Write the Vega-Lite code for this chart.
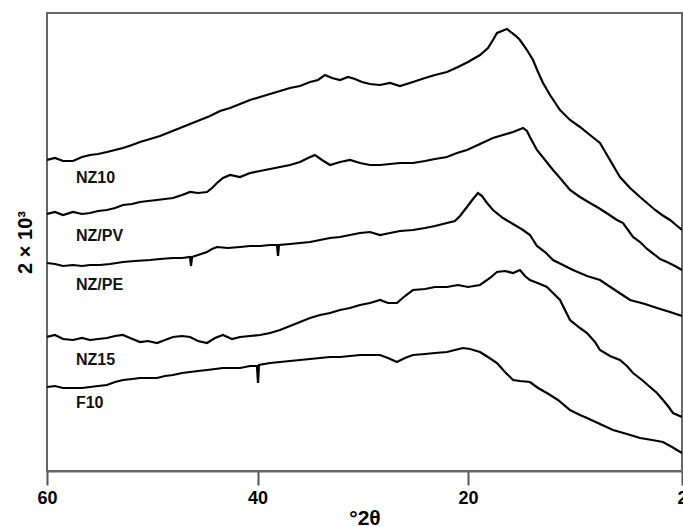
{
  "$schema": "https://vega.github.io/schema/vega-lite/v6.json",
  "width": 635,
  "height": 458,
  "autosize": {"type": "none"},
  "padding": {"left": 47, "top": 13, "right": 1, "bottom": 56},
  "background": "white",
  "config": {
    "view": {"stroke": "#666", "strokeWidth": 2},
    "font": "Liberation Sans"
  },
  "datasets": {
    "labels": [
      {"sample": "NZ10", "twotheta": 57.25, "intensity": 288},
      {"sample": "NZ/PV", "twotheta": 57.25, "intensity": 230},
      {"sample": "NZ/PE", "twotheta": 57.25, "intensity": 181},
      {"sample": "NZ15", "twotheta": 57.25, "intensity": 106},
      {"sample": "F10", "twotheta": 57.25, "intensity": 63}
    ]
  },
  "data": {"values": [
    {"sample":"NZ10","twotheta":60.00,"intensity":311},
    {"sample":"NZ10","twotheta":59.24,"intensity":313},
    {"sample":"NZ10","twotheta":58.48,"intensity":310},
    {"sample":"NZ10","twotheta":57.53,"intensity":310},
    {"sample":"NZ10","twotheta":56.67,"intensity":314},
    {"sample":"NZ10","twotheta":55.91,"intensity":316},
    {"sample":"NZ10","twotheta":55.15,"intensity":317},
    {"sample":"NZ10","twotheta":54.30,"intensity":319},
    {"sample":"NZ10","twotheta":53.54,"intensity":321},
    {"sample":"NZ10","twotheta":52.78,"intensity":323},
    {"sample":"NZ10","twotheta":51.92,"intensity":326},
    {"sample":"NZ10","twotheta":51.16,"intensity":329},
    {"sample":"NZ10","twotheta":50.21,"intensity":332},
    {"sample":"NZ10","twotheta":49.26,"intensity":335},
    {"sample":"NZ10","twotheta":48.31,"intensity":339},
    {"sample":"NZ10","twotheta":47.36,"intensity":343},
    {"sample":"NZ10","twotheta":46.41,"intensity":347},
    {"sample":"NZ10","twotheta":45.46,"intensity":351},
    {"sample":"NZ10","twotheta":44.51,"intensity":355},
    {"sample":"NZ10","twotheta":43.56,"intensity":360},
    {"sample":"NZ10","twotheta":42.61,"intensity":363},
    {"sample":"NZ10","twotheta":41.66,"intensity":367},
    {"sample":"NZ10","twotheta":40.71,"intensity":371},
    {"sample":"NZ10","twotheta":39.76,"intensity":374},
    {"sample":"NZ10","twotheta":38.81,"intensity":377},
    {"sample":"NZ10","twotheta":37.86,"intensity":380},
    {"sample":"NZ10","twotheta":36.91,"intensity":383},
    {"sample":"NZ10","twotheta":35.96,"intensity":385},
    {"sample":"NZ10","twotheta":35.01,"intensity":389},
    {"sample":"NZ10","twotheta":34.25,"intensity":391},
    {"sample":"NZ10","twotheta":33.59,"intensity":396},
    {"sample":"NZ10","twotheta":32.92,"intensity":393},
    {"sample":"NZ10","twotheta":32.16,"intensity":391},
    {"sample":"NZ10","twotheta":31.40,"intensity":394},
    {"sample":"NZ10","twotheta":30.74,"intensity":392},
    {"sample":"NZ10","twotheta":30.07,"intensity":389},
    {"sample":"NZ10","twotheta":29.31,"intensity":387},
    {"sample":"NZ10","twotheta":28.36,"intensity":386},
    {"sample":"NZ10","twotheta":27.41,"intensity":388},
    {"sample":"NZ10","twotheta":26.46,"intensity":385},
    {"sample":"NZ10","twotheta":25.23,"intensity":389},
    {"sample":"NZ10","twotheta":24.09,"intensity":393},
    {"sample":"NZ10","twotheta":23.14,"intensity":396},
    {"sample":"NZ10","twotheta":22.00,"intensity":399},
    {"sample":"NZ10","twotheta":20.95,"intensity":404},
    {"sample":"NZ10","twotheta":20.00,"intensity":409},
    {"sample":"NZ10","twotheta":18.99,"intensity":416},
    {"sample":"NZ10","twotheta":18.32,"intensity":423},
    {"sample":"NZ10","twotheta":17.90,"intensity":431},
    {"sample":"NZ10","twotheta":17.56,"intensity":438},
    {"sample":"NZ10","twotheta":17.14,"intensity":440},
    {"sample":"NZ10","twotheta":16.72,"intensity":442},
    {"sample":"NZ10","twotheta":16.30,"intensity":438},
    {"sample":"NZ10","twotheta":15.96,"intensity":435},
    {"sample":"NZ10","twotheta":15.63,"intensity":431},
    {"sample":"NZ10","twotheta":15.04,"intensity":421},
    {"sample":"NZ10","twotheta":14.53,"intensity":411},
    {"sample":"NZ10","twotheta":14.11,"intensity":399},
    {"sample":"NZ10","twotheta":13.69,"intensity":388},
    {"sample":"NZ10","twotheta":13.10,"intensity":376},
    {"sample":"NZ10","twotheta":12.26,"intensity":361},
    {"sample":"NZ10","twotheta":11.42,"intensity":351},
    {"sample":"NZ10","twotheta":10.58,"intensity":344},
    {"sample":"NZ10","twotheta":9.74,"intensity":336},
    {"sample":"NZ10","twotheta":8.90,"intensity":328},
    {"sample":"NZ10","twotheta":8.06,"intensity":311},
    {"sample":"NZ10","twotheta":7.22,"intensity":294},
    {"sample":"NZ10","twotheta":6.37,"intensity":283},
    {"sample":"NZ10","twotheta":5.53,"intensity":274},
    {"sample":"NZ10","twotheta":4.94,"intensity":268},
    {"sample":"NZ10","twotheta":4.26,"intensity":261},
    {"sample":"NZ10","twotheta":3.68,"intensity":256},
    {"sample":"NZ10","twotheta":3.01,"intensity":251},
    {"sample":"NZ10","twotheta":2.50,"intensity":246},
    {"sample":"NZ10","twotheta":2.00,"intensity":241},

    {"sample":"NZ/PV","twotheta":60.00,"intensity":257},
    {"sample":"NZ/PV","twotheta":59.24,"intensity":259},
    {"sample":"NZ/PV","twotheta":58.48,"intensity":256},
    {"sample":"NZ/PV","twotheta":57.53,"intensity":259},
    {"sample":"NZ/PV","twotheta":56.67,"intensity":257},
    {"sample":"NZ/PV","twotheta":55.91,"intensity":258},
    {"sample":"NZ/PV","twotheta":55.15,"intensity":260},
    {"sample":"NZ/PV","twotheta":54.30,"intensity":261},
    {"sample":"NZ/PV","twotheta":53.54,"intensity":263},
    {"sample":"NZ/PV","twotheta":52.78,"intensity":266},
    {"sample":"NZ/PV","twotheta":51.92,"intensity":267},
    {"sample":"NZ/PV","twotheta":51.16,"intensity":269},
    {"sample":"NZ/PV","twotheta":50.40,"intensity":270},
    {"sample":"NZ/PV","twotheta":49.55,"intensity":271},
    {"sample":"NZ/PV","twotheta":48.79,"intensity":272},
    {"sample":"NZ/PV","twotheta":48.03,"intensity":273},
    {"sample":"NZ/PV","twotheta":47.17,"intensity":276},
    {"sample":"NZ/PV","twotheta":46.41,"intensity":279},
    {"sample":"NZ/PV","twotheta":45.65,"intensity":278},
    {"sample":"NZ/PV","twotheta":44.80,"intensity":279},
    {"sample":"NZ/PV","twotheta":44.32,"intensity":283},
    {"sample":"NZ/PV","twotheta":43.85,"intensity":288},
    {"sample":"NZ/PV","twotheta":43.28,"intensity":293},
    {"sample":"NZ/PV","twotheta":42.61,"intensity":296},
    {"sample":"NZ/PV","twotheta":41.66,"intensity":294},
    {"sample":"NZ/PV","twotheta":40.71,"intensity":298},
    {"sample":"NZ/PV","twotheta":39.76,"intensity":300},
    {"sample":"NZ/PV","twotheta":38.81,"intensity":302},
    {"sample":"NZ/PV","twotheta":37.86,"intensity":304},
    {"sample":"NZ/PV","twotheta":36.91,"intensity":306},
    {"sample":"NZ/PV","twotheta":35.96,"intensity":309},
    {"sample":"NZ/PV","twotheta":35.20,"intensity":313},
    {"sample":"NZ/PV","twotheta":34.54,"intensity":316},
    {"sample":"NZ/PV","twotheta":33.87,"intensity":311},
    {"sample":"NZ/PV","twotheta":33.11,"intensity":306},
    {"sample":"NZ/PV","twotheta":32.16,"intensity":309},
    {"sample":"NZ/PV","twotheta":31.21,"intensity":311},
    {"sample":"NZ/PV","twotheta":30.26,"intensity":308},
    {"sample":"NZ/PV","twotheta":29.31,"intensity":306},
    {"sample":"NZ/PV","twotheta":28.36,"intensity":306},
    {"sample":"NZ/PV","twotheta":27.41,"intensity":307},
    {"sample":"NZ/PV","twotheta":26.46,"intensity":308},
    {"sample":"NZ/PV","twotheta":25.23,"intensity":308},
    {"sample":"NZ/PV","twotheta":24.09,"intensity":310},
    {"sample":"NZ/PV","twotheta":23.14,"intensity":312},
    {"sample":"NZ/PV","twotheta":22.00,"intensity":314},
    {"sample":"NZ/PV","twotheta":21.05,"intensity":318},
    {"sample":"NZ/PV","twotheta":20.10,"intensity":321},
    {"sample":"NZ/PV","twotheta":18.99,"intensity":327},
    {"sample":"NZ/PV","twotheta":17.90,"intensity":333},
    {"sample":"NZ/PV","twotheta":17.06,"intensity":336},
    {"sample":"NZ/PV","twotheta":16.21,"intensity":339},
    {"sample":"NZ/PV","twotheta":15.79,"intensity":341},
    {"sample":"NZ/PV","twotheta":15.37,"intensity":343},
    {"sample":"NZ/PV","twotheta":15.04,"intensity":340},
    {"sample":"NZ/PV","twotheta":14.79,"intensity":334},
    {"sample":"NZ/PV","twotheta":14.20,"intensity":321},
    {"sample":"NZ/PV","twotheta":13.52,"intensity":311},
    {"sample":"NZ/PV","twotheta":12.85,"intensity":301},
    {"sample":"NZ/PV","twotheta":12.26,"intensity":293},
    {"sample":"NZ/PV","twotheta":11.42,"intensity":281},
    {"sample":"NZ/PV","twotheta":10.58,"intensity":274},
    {"sample":"NZ/PV","twotheta":9.74,"intensity":268},
    {"sample":"NZ/PV","twotheta":9.15,"intensity":264},
    {"sample":"NZ/PV","twotheta":8.48,"intensity":259},
    {"sample":"NZ/PV","twotheta":7.47,"intensity":251},
    {"sample":"NZ/PV","twotheta":6.96,"intensity":248},
    {"sample":"NZ/PV","twotheta":6.12,"intensity":234},
    {"sample":"NZ/PV","twotheta":5.53,"intensity":229},
    {"sample":"NZ/PV","twotheta":4.94,"intensity":222},
    {"sample":"NZ/PV","twotheta":4.26,"intensity":216},
    {"sample":"NZ/PV","twotheta":3.85,"intensity":212},
    {"sample":"NZ/PV","twotheta":3.26,"intensity":209},
    {"sample":"NZ/PV","twotheta":2.59,"intensity":205},
    {"sample":"NZ/PV","twotheta":2.00,"intensity":201},

    {"sample":"NZ/PE","twotheta":60.00,"intensity":208},
    {"sample":"NZ/PE","twotheta":59.24,"intensity":207},
    {"sample":"NZ/PE","twotheta":58.48,"intensity":205},
    {"sample":"NZ/PE","twotheta":57.53,"intensity":206},
    {"sample":"NZ/PE","twotheta":56.67,"intensity":205},
    {"sample":"NZ/PE","twotheta":55.91,"intensity":206},
    {"sample":"NZ/PE","twotheta":54.96,"intensity":206},
    {"sample":"NZ/PE","twotheta":54.01,"intensity":207},
    {"sample":"NZ/PE","twotheta":52.78,"intensity":209},
    {"sample":"NZ/PE","twotheta":51.64,"intensity":210},
    {"sample":"NZ/PE","twotheta":50.21,"intensity":211},
    {"sample":"NZ/PE","twotheta":49.26,"intensity":212},
    {"sample":"NZ/PE","twotheta":48.03,"intensity":213},
    {"sample":"NZ/PE","twotheta":47.17,"intensity":213},
    {"sample":"NZ/PE","twotheta":46.41,"intensity":214},
    {"sample":"NZ/PE","twotheta":46.32,"intensity":205},
    {"sample":"NZ/PE","twotheta":46.22,"intensity":214},
    {"sample":"NZ/PE","twotheta":45.65,"intensity":216},
    {"sample":"NZ/PE","twotheta":44.80,"intensity":219},
    {"sample":"NZ/PE","twotheta":44.32,"intensity":222},
    {"sample":"NZ/PE","twotheta":43.85,"intensity":224},
    {"sample":"NZ/PE","twotheta":42.80,"intensity":223},
    {"sample":"NZ/PE","twotheta":41.66,"intensity":224},
    {"sample":"NZ/PE","twotheta":40.71,"intensity":225},
    {"sample":"NZ/PE","twotheta":39.76,"intensity":225},
    {"sample":"NZ/PE","twotheta":38.81,"intensity":226},
    {"sample":"NZ/PE","twotheta":38.15,"intensity":226},
    {"sample":"NZ/PE","twotheta":38.05,"intensity":215},
    {"sample":"NZ/PE","twotheta":37.96,"intensity":226},
    {"sample":"NZ/PE","twotheta":36.91,"intensity":227},
    {"sample":"NZ/PE","twotheta":35.96,"intensity":228},
    {"sample":"NZ/PE","twotheta":35.01,"intensity":229},
    {"sample":"NZ/PE","twotheta":34.06,"intensity":231},
    {"sample":"NZ/PE","twotheta":33.11,"intensity":233},
    {"sample":"NZ/PE","twotheta":32.16,"intensity":234},
    {"sample":"NZ/PE","twotheta":31.21,"intensity":236},
    {"sample":"NZ/PE","twotheta":30.26,"intensity":238},
    {"sample":"NZ/PE","twotheta":29.31,"intensity":239},
    {"sample":"NZ/PE","twotheta":28.36,"intensity":236},
    {"sample":"NZ/PE","twotheta":27.41,"intensity":238},
    {"sample":"NZ/PE","twotheta":26.46,"intensity":240},
    {"sample":"NZ/PE","twotheta":25.23,"intensity":241},
    {"sample":"NZ/PE","twotheta":24.09,"intensity":243},
    {"sample":"NZ/PE","twotheta":23.14,"intensity":245},
    {"sample":"NZ/PE","twotheta":22.00,"intensity":248},
    {"sample":"NZ/PE","twotheta":21.24,"intensity":250},
    {"sample":"NZ/PE","twotheta":20.76,"intensity":255},
    {"sample":"NZ/PE","twotheta":20.10,"intensity":264},
    {"sample":"NZ/PE","twotheta":19.58,"intensity":272},
    {"sample":"NZ/PE","twotheta":19.16,"intensity":278},
    {"sample":"NZ/PE","twotheta":18.82,"intensity":275},
    {"sample":"NZ/PE","twotheta":18.40,"intensity":268},
    {"sample":"NZ/PE","twotheta":17.90,"intensity":261},
    {"sample":"NZ/PE","twotheta":17.06,"intensity":253},
    {"sample":"NZ/PE","twotheta":16.21,"intensity":247},
    {"sample":"NZ/PE","twotheta":15.37,"intensity":241},
    {"sample":"NZ/PE","twotheta":14.79,"intensity":236},
    {"sample":"NZ/PE","twotheta":14.20,"intensity":225},
    {"sample":"NZ/PE","twotheta":13.52,"intensity":219},
    {"sample":"NZ/PE","twotheta":12.85,"intensity":211},
    {"sample":"NZ/PE","twotheta":12.01,"intensity":206},
    {"sample":"NZ/PE","twotheta":11.17,"intensity":201},
    {"sample":"NZ/PE","twotheta":9.99,"intensity":195},
    {"sample":"NZ/PE","twotheta":8.90,"intensity":191},
    {"sample":"NZ/PE","twotheta":7.64,"intensity":181},
    {"sample":"NZ/PE","twotheta":6.37,"intensity":171},
    {"sample":"NZ/PE","twotheta":5.11,"intensity":167},
    {"sample":"NZ/PE","twotheta":4.10,"intensity":163},
    {"sample":"NZ/PE","twotheta":3.01,"intensity":159},
    {"sample":"NZ/PE","twotheta":2.00,"intensity":155},

    {"sample":"NZ15","twotheta":60.00,"intensity":134},
    {"sample":"NZ15","twotheta":59.24,"intensity":136},
    {"sample":"NZ15","twotheta":58.48,"intensity":132},
    {"sample":"NZ15","twotheta":57.53,"intensity":131},
    {"sample":"NZ15","twotheta":56.67,"intensity":133},
    {"sample":"NZ15","twotheta":55.91,"intensity":131},
    {"sample":"NZ15","twotheta":55.15,"intensity":132},
    {"sample":"NZ15","twotheta":54.30,"intensity":133},
    {"sample":"NZ15","twotheta":53.54,"intensity":135},
    {"sample":"NZ15","twotheta":52.78,"intensity":136},
    {"sample":"NZ15","twotheta":52.11,"intensity":133},
    {"sample":"NZ15","twotheta":51.16,"intensity":129},
    {"sample":"NZ15","twotheta":50.40,"intensity":130},
    {"sample":"NZ15","twotheta":49.55,"intensity":128},
    {"sample":"NZ15","twotheta":48.79,"intensity":131},
    {"sample":"NZ15","twotheta":48.03,"intensity":134},
    {"sample":"NZ15","twotheta":47.17,"intensity":135},
    {"sample":"NZ15","twotheta":46.41,"intensity":134},
    {"sample":"NZ15","twotheta":45.65,"intensity":130},
    {"sample":"NZ15","twotheta":44.80,"intensity":128},
    {"sample":"NZ15","twotheta":44.04,"intensity":133},
    {"sample":"NZ15","twotheta":43.28,"intensity":136},
    {"sample":"NZ15","twotheta":42.42,"intensity":132},
    {"sample":"NZ15","twotheta":41.66,"intensity":134},
    {"sample":"NZ15","twotheta":40.71,"intensity":135},
    {"sample":"NZ15","twotheta":39.76,"intensity":136},
    {"sample":"NZ15","twotheta":38.81,"intensity":138},
    {"sample":"NZ15","twotheta":37.86,"intensity":141},
    {"sample":"NZ15","twotheta":36.91,"intensity":145},
    {"sample":"NZ15","twotheta":35.96,"intensity":149},
    {"sample":"NZ15","twotheta":35.01,"intensity":153},
    {"sample":"NZ15","twotheta":34.06,"intensity":156},
    {"sample":"NZ15","twotheta":33.11,"intensity":158},
    {"sample":"NZ15","twotheta":32.16,"intensity":161},
    {"sample":"NZ15","twotheta":31.21,"intensity":163},
    {"sample":"NZ15","twotheta":30.26,"intensity":166},
    {"sample":"NZ15","twotheta":29.31,"intensity":168},
    {"sample":"NZ15","twotheta":28.36,"intensity":171},
    {"sample":"NZ15","twotheta":27.60,"intensity":168},
    {"sample":"NZ15","twotheta":26.75,"intensity":168},
    {"sample":"NZ15","twotheta":25.99,"intensity":175},
    {"sample":"NZ15","twotheta":25.23,"intensity":181},
    {"sample":"NZ15","twotheta":24.09,"intensity":182},
    {"sample":"NZ15","twotheta":23.14,"intensity":184},
    {"sample":"NZ15","twotheta":22.00,"intensity":184},
    {"sample":"NZ15","twotheta":20.95,"intensity":186},
    {"sample":"NZ15","twotheta":20.00,"intensity":184},
    {"sample":"NZ15","twotheta":18.99,"intensity":186},
    {"sample":"NZ15","twotheta":18.15,"intensity":193},
    {"sample":"NZ15","twotheta":17.56,"intensity":199},
    {"sample":"NZ15","twotheta":16.89,"intensity":200},
    {"sample":"NZ15","twotheta":16.21,"intensity":198},
    {"sample":"NZ15","twotheta":15.63,"intensity":201},
    {"sample":"NZ15","twotheta":15.21,"intensity":195},
    {"sample":"NZ15","twotheta":14.79,"intensity":191},
    {"sample":"NZ15","twotheta":13.94,"intensity":187},
    {"sample":"NZ15","twotheta":13.36,"intensity":184},
    {"sample":"NZ15","twotheta":12.85,"intensity":178},
    {"sample":"NZ15","twotheta":12.26,"intensity":171},
    {"sample":"NZ15","twotheta":11.84,"intensity":161},
    {"sample":"NZ15","twotheta":11.42,"intensity":151},
    {"sample":"NZ15","twotheta":10.58,"intensity":143},
    {"sample":"NZ15","twotheta":9.99,"intensity":138},
    {"sample":"NZ15","twotheta":9.32,"intensity":129},
    {"sample":"NZ15","twotheta":8.90,"intensity":121},
    {"sample":"NZ15","twotheta":8.06,"intensity":115},
    {"sample":"NZ15","twotheta":7.22,"intensity":111},
    {"sample":"NZ15","twotheta":6.63,"intensity":105},
    {"sample":"NZ15","twotheta":6.12,"intensity":98},
    {"sample":"NZ15","twotheta":5.36,"intensity":91},
    {"sample":"NZ15","twotheta":4.69,"intensity":84},
    {"sample":"NZ15","twotheta":4.10,"intensity":78},
    {"sample":"NZ15","twotheta":3.60,"intensity":71},
    {"sample":"NZ15","twotheta":3.18,"intensity":65},
    {"sample":"NZ15","twotheta":2.76,"intensity":58},
    {"sample":"NZ15","twotheta":2.00,"intensity":54},

    {"sample":"F10","twotheta":60.00,"intensity":84},
    {"sample":"F10","twotheta":59.24,"intensity":85},
    {"sample":"F10","twotheta":58.48,"intensity":83},
    {"sample":"F10","twotheta":57.53,"intensity":83},
    {"sample":"F10","twotheta":56.67,"intensity":83},
    {"sample":"F10","twotheta":55.91,"intensity":84},
    {"sample":"F10","twotheta":55.15,"intensity":85},
    {"sample":"F10","twotheta":54.30,"intensity":86},
    {"sample":"F10","twotheta":53.54,"intensity":89},
    {"sample":"F10","twotheta":52.78,"intensity":91},
    {"sample":"F10","twotheta":51.92,"intensity":92},
    {"sample":"F10","twotheta":51.16,"intensity":93},
    {"sample":"F10","twotheta":50.21,"intensity":93},
    {"sample":"F10","twotheta":49.55,"intensity":93},
    {"sample":"F10","twotheta":48.79,"intensity":95},
    {"sample":"F10","twotheta":48.03,"intensity":96},
    {"sample":"F10","twotheta":47.17,"intensity":98},
    {"sample":"F10","twotheta":46.41,"intensity":99},
    {"sample":"F10","twotheta":45.65,"intensity":100},
    {"sample":"F10","twotheta":44.80,"intensity":101},
    {"sample":"F10","twotheta":44.04,"intensity":102},
    {"sample":"F10","twotheta":43.28,"intensity":103},
    {"sample":"F10","twotheta":42.42,"intensity":103},
    {"sample":"F10","twotheta":41.66,"intensity":103},
    {"sample":"F10","twotheta":40.71,"intensity":105},
    {"sample":"F10","twotheta":40.05,"intensity":105},
    {"sample":"F10","twotheta":39.95,"intensity":88},
    {"sample":"F10","twotheta":39.86,"intensity":106},
    {"sample":"F10","twotheta":38.81,"intensity":108},
    {"sample":"F10","twotheta":37.86,"intensity":109},
    {"sample":"F10","twotheta":36.91,"intensity":110},
    {"sample":"F10","twotheta":35.96,"intensity":111},
    {"sample":"F10","twotheta":35.01,"intensity":112},
    {"sample":"F10","twotheta":34.06,"intensity":113},
    {"sample":"F10","twotheta":33.11,"intensity":114},
    {"sample":"F10","twotheta":32.16,"intensity":114},
    {"sample":"F10","twotheta":31.21,"intensity":115},
    {"sample":"F10","twotheta":30.26,"intensity":116},
    {"sample":"F10","twotheta":29.31,"intensity":116},
    {"sample":"F10","twotheta":28.36,"intensity":116},
    {"sample":"F10","twotheta":27.60,"intensity":113},
    {"sample":"F10","twotheta":26.75,"intensity":109},
    {"sample":"F10","twotheta":25.99,"intensity":113},
    {"sample":"F10","twotheta":25.23,"intensity":116},
    {"sample":"F10","twotheta":24.09,"intensity":117},
    {"sample":"F10","twotheta":23.14,"intensity":118},
    {"sample":"F10","twotheta":22.00,"intensity":119},
    {"sample":"F10","twotheta":21.24,"intensity":121},
    {"sample":"F10","twotheta":20.48,"intensity":123},
    {"sample":"F10","twotheta":19.83,"intensity":122},
    {"sample":"F10","twotheta":18.99,"intensity":119},
    {"sample":"F10","twotheta":18.32,"intensity":114},
    {"sample":"F10","twotheta":17.56,"intensity":108},
    {"sample":"F10","twotheta":16.89,"intensity":99},
    {"sample":"F10","twotheta":16.21,"intensity":91},
    {"sample":"F10","twotheta":15.63,"intensity":90},
    {"sample":"F10","twotheta":14.79,"intensity":89},
    {"sample":"F10","twotheta":14.11,"intensity":83},
    {"sample":"F10","twotheta":13.36,"intensity":78},
    {"sample":"F10","twotheta":12.43,"intensity":71},
    {"sample":"F10","twotheta":11.42,"intensity":61},
    {"sample":"F10","twotheta":10.58,"intensity":56},
    {"sample":"F10","twotheta":9.99,"intensity":53},
    {"sample":"F10","twotheta":8.90,"intensity":47},
    {"sample":"F10","twotheta":7.80,"intensity":41},
    {"sample":"F10","twotheta":6.63,"intensity":37},
    {"sample":"F10","twotheta":5.53,"intensity":33},
    {"sample":"F10","twotheta":4.52,"intensity":31},
    {"sample":"F10","twotheta":3.60,"intensity":29},
    {"sample":"F10","twotheta":2.84,"intensity":24},
    {"sample":"F10","twotheta":2.00,"intensity":18}
  ]},
  "layer": [
    {
      "mark": {"type": "line", "strokeWidth": 2.2, "color": "#000", "clip": true},
      "encoding": {
        "x": {
          "field": "twotheta", "type": "quantitative",
          "scale": {"domain": [60, 20, 2], "range": [0, 421, 635], "nice": false, "zero": false},
          "axis": {
            "title": "°2θ", "values": [60, 40, 20, 2], "format": "d",
            "grid": false, "domainColor": "#666", "domainWidth": 2,
            "tickColor": "#555", "tickWidth": 2, "tickSize": 14,
            "labelFont": "Liberation Sans", "labelFontSize": 18, "labelFontWeight": "bold",
            "labelColor": "#000", "labelPadding": 4, "labelFlush": false, "labelOverlap": false,
            "titleFont": "Liberation Sans", "titleFontSize": 21, "titleFontWeight": "bold",
            "titleColor": "#000", "titlePadding": 0
          }
        },
        "y": {
          "field": "intensity", "type": "quantitative",
          "scale": {"domain": [0, 458], "nice": false, "zero": false},
          "axis": {
            "title": "2 × 10³", "labels": false, "ticks": false, "grid": false, "domain": false,
            "titleFont": "Liberation Sans", "titleFontSize": 20, "titleFontWeight": "bold",
            "titleColor": "#000", "titlePadding": 12
          }
        },
        "detail": {"field": "sample", "type": "nominal"}
      }
    },
    {
      "data": {"name": "labels"},
      "mark": {"type": "text", "align": "left", "baseline": "alphabetic", "font": "Liberation Sans", "fontSize": 16, "fontWeight": "bold", "color": "#111"},
      "encoding": {
        "x": {"field": "twotheta", "type": "quantitative"},
        "y": {"field": "intensity", "type": "quantitative"},
        "text": {"field": "sample", "type": "nominal"}
      }
    }
  ]
}
